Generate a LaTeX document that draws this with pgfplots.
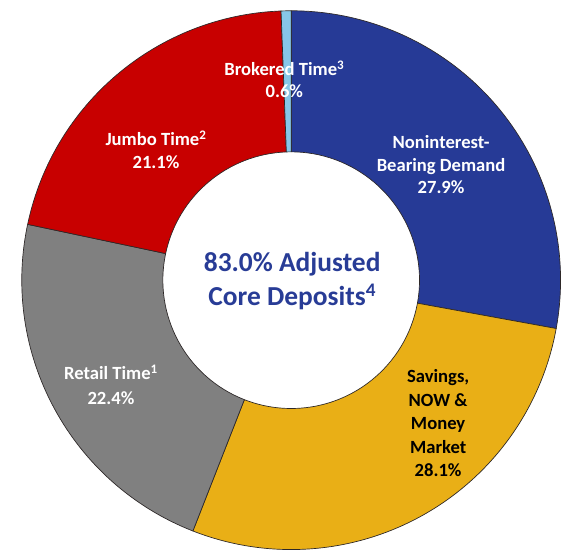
\documentclass[border=0pt]{standalone}
\usepackage{pgfplots}
\pgfplotsset{compat=1.18}
\usepackage{pgfplotstable}
\usepackage{fontspec}
\setmainfont{Carlito}
\definecolor{seg0}{RGB}{38,58,150}
\definecolor{seg1}{RGB}{233,175,22}
\definecolor{seg2}{RGB}{128,128,128}
\definecolor{seg3}{RGB}{200,0,0}
\definecolor{seg4}{RGB}{135,198,232}
\definecolor{centertext}{RGB}{40,60,150}
\definecolor{edge}{RGB}{45,40,40}
\pgfplotstableread{
segment value
Noninterest 27.9
Savings 28.1
Retail 22.4
Jumbo 21.1
Brokered 0.6
}\deposits
\begin{document}
\begin{tikzpicture}
% total and cumulative angles (clockwise from 12 o'clock)
\xdef\total{0}
\foreach \i in {0,...,4}{%
  \pgfplotstablegetelem{\i}{value}\of\deposits
  \pgfmathparse{\total+\pgfplotsretval}\xdef\total{\pgfmathresult}%
}
\xdef\cum{90}
\foreach \i in {0,...,4}{%
  \pgfplotstablegetelem{\i}{value}\of\deposits
  \pgfmathparse{\cum-360*\pgfplotsretval/\total}\xdef\nxt{\pgfmathresult}%
  \expandafter\xdef\csname aS\i\endcsname{\cum}%
  \expandafter\xdef\csname aE\i\endcsname{\nxt}%
  \xdef\cum{\nxt}%
}
\begin{axis}[
  width=568pt, height=563pt, scale only axis,
  xmin=0, xmax=568, ymin=0, ymax=563,
  hide axis, clip=false,
]
\path (axis cs:0,0) rectangle (axis cs:568,563);
\pgfplotsinvokeforeach{0,...,4}{%
  \filldraw[fill=seg#1, draw=edge, line width=0.7pt, line join=round]
    ([shift={(\csname aS#1\endcsname:275pt)}]axis cs:290,277)
    arc[start angle=\csname aS#1\endcsname, end angle=\csname aE#1\endcsname, radius=275pt]
    -- ([shift={(\csname aE#1\endcsname:131pt)}]axis cs:290,277)
    arc[start angle=\csname aE#1\endcsname, end angle=\csname aS#1\endcsname, radius=131pt]
    -- cycle;
}
\node[white, font=\fontsize{19}{23}\selectfont\bfseries, align=center] at (axis cs:283,482)
  {Brokered Time\textsuperscript{3}\\0.6\%};
\node[white, font=\fontsize{19}{23}\selectfont\bfseries, align=center] at (axis cs:443,395)
  {Noninterest-\\Bearing Demand\\27.9\%};
\node[black, font=\fontsize{19}{24}\selectfont\bfseries, align=center] at (axis cs:440,131)
  {Savings,\\NOW \&\\Money\\Market\\28.1\%};
\node[white, font=\fontsize{19}{24}\selectfont\bfseries, align=center] at (axis cs:152,410)
  {Jumbo Time\textsuperscript{2}\\21.1\%};
\node[white, font=\fontsize{19}{26}\selectfont\bfseries, align=center] at (axis cs:106,170)
  {Retail Time\textsuperscript{1}\\22.4\%};
\node[centertext, font=\fontsize{28}{35}\selectfont\bfseries, align=center] at (axis cs:291,276)
  {83.0\% Adjusted\\Core Deposits\textsuperscript{4}};
\end{axis}
\end{tikzpicture}
\end{document}
